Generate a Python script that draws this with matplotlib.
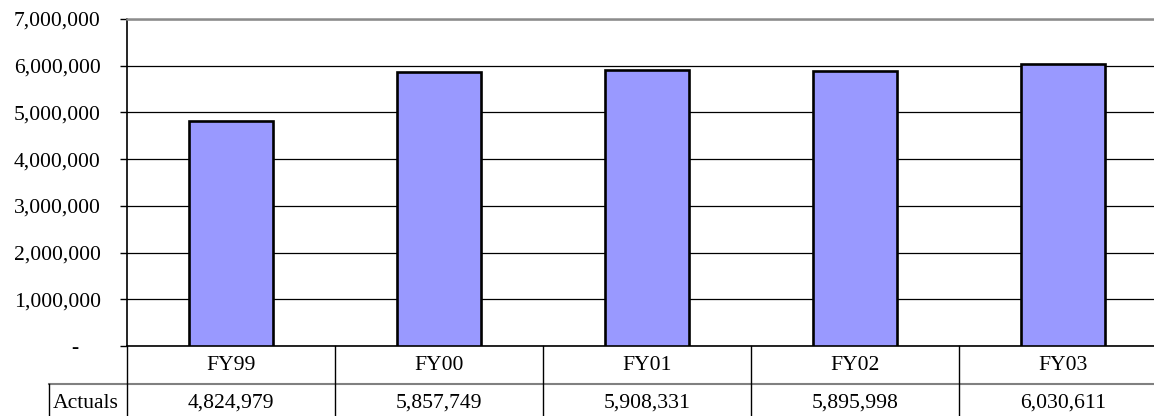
import matplotlib
matplotlib.use("Agg")
import matplotlib.pyplot as plt
import matplotlib.transforms as mtransforms
from matplotlib.ticker import FuncFormatter
from matplotlib.lines import Line2D

years = ["FY99", "FY00", "FY01", "FY02", "FY03"]
actuals = [4824979, 5857749, 5908331, 5895998, 6030611]
row_label = "Actuals"

plt.rcParams["font.family"] = ["Liberation Serif", "DejaVu Serif"]
FS = 15.6

W, H = 1154, 416
fig = plt.figure(figsize=(W / 100, H / 100), dpi=100)

# plot area in pixels (the last table column runs past the right edge)
left, right, top, bottom = 127, 1167, 19, 346
ax = fig.add_axes([left / W, (H - bottom) / H, (right - left) / W, (bottom - top) / H])

x = range(len(years))
ax.bar(x, actuals, width=0.4, color="#9999FF", edgecolor="black", linewidth=1.9, zorder=3)

ax.set_xlim(-0.5, len(years) - 0.5)
ax.set_ylim(0, 7000000)
ax.set_yticks(range(0, 7000001, 1000000))
ax.yaxis.set_major_formatter(FuncFormatter(lambda v, p: "-    " if v == 0 else f"{int(v):,}"))
ax.tick_params(axis="y", direction="out", length=5, width=1, pad=14, labelsize=FS, colors="black")
ax.set_xticks([])
ax.grid(axis="y", color="black", linewidth=0.9, zorder=1)

ax.spines["right"].set_visible(False)
ax.spines["top"].set_color("#8c8c8c")
ax.spines["top"].set_linewidth(1.8)
ax.spines["left"].set_linewidth(1.2)
ax.spines["bottom"].set_linewidth(1.2)

# data table under the axis
row_h = 38
header_y = bottom + row_h / 2
value_y = bottom + row_h + row_h / 2
trans = mtransforms.blended_transform_factory(ax.transData, fig.transFigure)
for i, (yr, val) in enumerate(zip(years, actuals)):
    ax.text(i, (H - header_y) / H, yr, transform=trans, ha="center", va="center", fontsize=FS)
    ax.text(i, (H - value_y) / H, f"{val:,}", transform=trans, ha="center", va="center", fontsize=FS)
fig.text(53 / W, (H - value_y) / H, row_label, ha="left", va="center", fontsize=FS)


def hline(y, x0, x1, color="black", lw=1.0):
    fig.add_artist(Line2D([x0 / W, x1 / W], [(H - y) / H, (H - y) / H], color=color, linewidth=lw))


def vline(x, y0, y1, color="black", lw=1.0):
    fig.add_artist(Line2D([x / W, x / W], [(H - y0) / H, (H - y1) / H], color=color, linewidth=lw))


col_w = (right - left) / len(years)
hline(bottom + row_h, 49, W, color="#808080", lw=1.5)
vline(49, bottom + row_h, H + 5)
for k in range(len(years)):
    vline(left + k * col_w, bottom, H + 5)

fig.savefig("out.png", dpi=100)
